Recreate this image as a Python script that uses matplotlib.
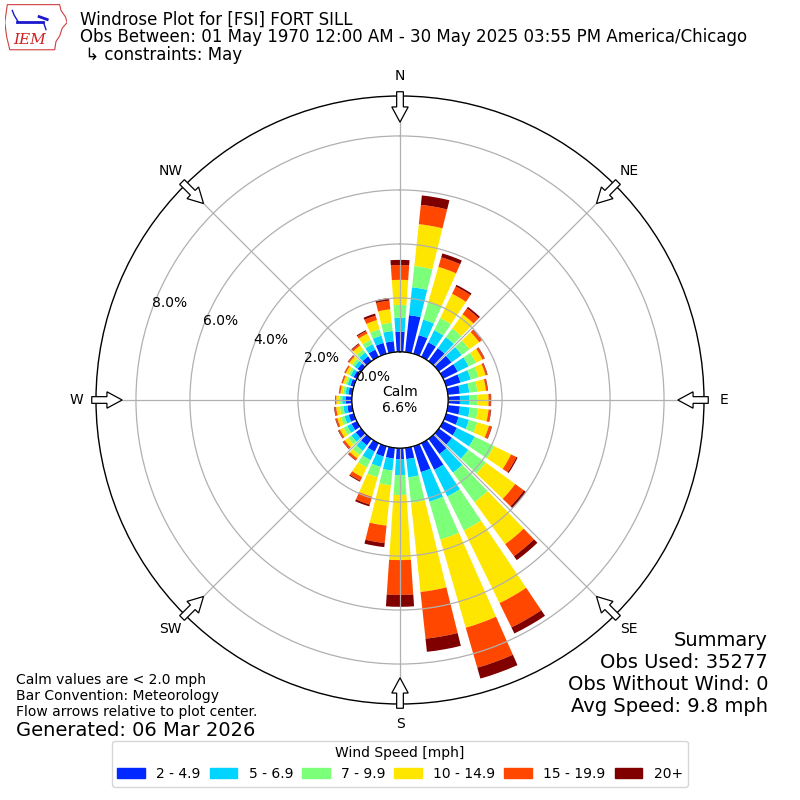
import numpy as np
import matplotlib
matplotlib.use('Agg')
import matplotlib.pyplot as plt
from matplotlib.patches import Patch, Circle, FancyArrow, Polygon

# wind direction sectors (deg, meteorological) and speed bins
directions = np.arange(0, 360, 10)
bin_labels = ['2 - 4.9', '5 - 6.9', '7 - 9.9', '10 - 14.9', '15 - 19.9', '20+']
bin_colors = ['#0028ff', '#00d4ff', '#7cff79', '#ffe600', '#ff4700', '#800000']

# percent of obs per direction, one list per speed bin
spd_2 = [0.75, 1.38, 0.72, 0.60, 0.60, 0.58, 0.60, 0.55, 0.45, 0.44, 0.45, 0.48,
         0.57, 0.60, 0.70, 1.10, 1.00, 0.42, 0.42, 0.40, 0.40, 0.35, 0.30, 0.25,
         0.22, 0.20, 0.18, 0.24, 0.14, 0.13, 0.14, 0.17, 0.22, 0.30, 0.42, 0.41]
spd_5 = [0.52, 1.04, 0.60, 0.50, 0.50, 0.47, 0.45, 0.40, 0.35, 0.36, 0.37, 0.40,
         0.73, 0.75, 0.85, 1.10, 1.14, 0.68, 0.58, 0.45, 0.40, 0.35, 0.25, 0.20,
         0.18, 0.16, 0.15, 0.12, 0.11, 0.11, 0.12, 0.14, 0.18, 0.22, 0.28, 0.38]
spd_7 = [0.47, 0.79, 0.68, 0.50, 0.40, 0.35, 0.30, 0.30, 0.30, 0.30, 0.30, 0.32,
         0.80, 0.80, 1.35, 1.40, 1.46, 0.95, 0.74, 0.55, 0.40, 0.30, 0.20, 0.15,
         0.15, 0.14, 0.13, 0.10, 0.09, 0.08, 0.09, 0.11, 0.14, 0.18, 0.25, 0.31]
spd_10 = [0.93, 1.56, 1.35, 1.00, 0.65, 0.45, 0.27, 0.27, 0.32, 0.40, 0.40, 0.45,
          0.70, 1.35, 1.93, 3.00, 3.40, 3.32, 2.41, 1.50, 0.75, 0.40, 0.15, 0.15,
          0.15, 0.14, 0.14, 0.12, 0.10, 0.10, 0.11, 0.13, 0.18, 0.26, 0.35, 0.50]
spd_15 = [0.55, 0.72, 0.37, 0.30, 0.27, 0.11, 0.08, 0.06, 0.06, 0.08, 0.08, 0.10,
          0.22, 0.40, 0.55, 1.00, 1.54, 1.74, 1.29, 0.65, 0.30, 0.15, 0.08, 0.08,
          0.06, 0.06, 0.06, 0.04, 0.05, 0.05, 0.05, 0.05, 0.07, 0.10, 0.17, 0.32]
spd_20 = [0.19, 0.35, 0.15, 0.07, 0.07, 0.02, 0.02, 0.02, 0.02, 0.02, 0.02, 0.02,
          0.05, 0.10, 0.18, 0.25, 0.42, 0.49, 0.44, 0.15, 0.07, 0.04, 0.02, 0.02,
          0.02, 0.02, 0.02, 0.01, 0.01, 0.01, 0.01, 0.02, 0.03, 0.04, 0.08, 0.10]
speed_bins = [spd_2, spd_5, spd_7, spd_10, spd_15, spd_20]

calm_pct = 6.6
rings = [0, 2, 4, 6, 8]
compass = ['N', 'NE', 'E', 'SE', 'S', 'SW', 'W', 'NW']

fig = plt.figure(figsize=(8, 8), dpi=100)
ax = fig.add_axes([0.12, 0.12, 0.76, 0.76], projection='polar')
ax.set_theta_zero_location('N')
ax.set_theta_direction(-1)
ax.set_ylim(0, 9.48)
ax.set_rorigin(-1.78)

theta = np.deg2rad(directions)
base = np.zeros(len(directions))
for vals, color, label in zip(speed_bins, bin_colors, bin_labels):
    ax.bar(theta, vals, width=np.deg2rad(7.8), bottom=base, color=color,
           linewidth=0, label=label, align='center')
    base += np.array(vals)

ax.set_xticks(np.deg2rad(np.arange(0, 360, 45)))
ax.set_xticklabels([])
ax.set_yticks(rings)
ax.set_yticklabels(['%.1f%%' % r for r in rings], fontsize=10)
ax.set_rlabel_position(290)
ax.grid(True, color='#b0b0b0', lw=0.9)
ax.spines['polar'].set_linewidth(1.0)

# calm circle in the middle
ax.add_artist(Circle((0.5, 0.5), 48 / 608., transform=ax.transAxes, fill=False,
                     ec='black', lw=1.0, zorder=3))
ax.text(0.5, 0.5, 'Calm\n%.1f%%' % calm_pct, transform=ax.transAxes,
        ha='center', va='center', fontsize=10)

# compass labels and flow arrows
for i, lab in enumerate(compass):
    b = np.deg2rad(i * 45)
    ux, uy = np.sin(b), np.cos(b)
    ax.text(0.5 + 0.533 * ux, 0.5 + 0.533 * uy, lab, transform=ax.transAxes,
            ha='center', va='center', fontsize=10)
    arr = FancyArrow(0.5 + 0.507 * ux, 0.5 + 0.507 * uy, -0.05 * ux, -0.05 * uy,
                     width=0.011, head_width=0.027, head_length=0.025,
                     length_includes_head=True, transform=ax.transAxes,
                     fc='white', ec='black', lw=0.9, zorder=6)
    fig.add_artist(arr)

# header
fig.text(0.1, 1 - 20 / 800., 'Windrose Plot for [FSI] FORT SILL', fontsize=12, va='center')
fig.text(0.1, 1 - 37 / 800., 'Obs Between: 01 May 1970 12:00 AM - 30 May 2025 03:55 PM America/Chicago',
         fontsize=12, va='center')
fig.text(0.1, 1 - 55 / 800., ' \u21b3 constraints: May', fontsize=12, va='center')

# rough IEM logo
lax = fig.add_axes([0.006, 0.936, 0.078, 0.06])
lax.set_xlim(0, 1)
lax.set_ylim(0, 1)
lax.axis('off')
iowa = [(0.04, 0.97), (0.88, 0.97), (0.9, 0.85), (0.97, 0.72), (1.0, 0.6),
        (0.92, 0.48), (0.88, 0.32), (0.82, 0.2), (0.8, 0.03), (0.08, 0.03),
        (0.03, 0.3), (0.0, 0.6), (0.04, 0.97)]
lax.add_patch(Polygon(iowa, closed=True, fill=False, ec='#d04040', lw=0.8))
lax.plot([0.2, 0.62], [0.6, 0.6], color='#1a1acc', lw=2)
lax.plot([0.22, 0.15, 0.12], [0.6, 0.75, 0.85], color='#1a1acc', lw=1)
lax.plot([0.55, 0.68], [0.72, 0.66], color='#1a1acc', lw=2)
lax.plot([0.62, 0.66], [0.6, 0.45], color='#1a1acc', lw=1)
lax.text(0.4, 0.24, 'IEM', color='#d02020', fontsize=11, family='serif',
         style='italic', ha='center', va='center')

# notes
fig.text(16 / 800., 1 - 680 / 800., 'Calm values are < 2.0 mph', fontsize=10, va='center')
fig.text(16 / 800., 1 - 696 / 800., 'Bar Convention: Meteorology', fontsize=10, va='center')
fig.text(16 / 800., 1 - 712 / 800., 'Flow arrows relative to plot center.', fontsize=10, va='center')
fig.text(16 / 800., 1 - 730 / 800., 'Generated: 06 Mar 2026', fontsize=14, va='center')

summary = ['Summary', 'Obs Used: 35277', 'Obs Without Wind: 0', 'Avg Speed: 9.8 mph']
for i, line in enumerate(summary):
    fig.text(768 / 800., 1 - (640 + 22 * i) / 800., line, fontsize=14,
             ha='right', va='center')

handles = [Patch(color=c) for c in bin_colors]
fig.legend(handles, bin_labels, loc='lower center', bbox_to_anchor=(0.5, 0.008),
           ncol=6, title='Wind Speed [mph]', fontsize=10, title_fontsize=10,
           columnspacing=0.65)

fig.savefig('out.png', dpi=100)
